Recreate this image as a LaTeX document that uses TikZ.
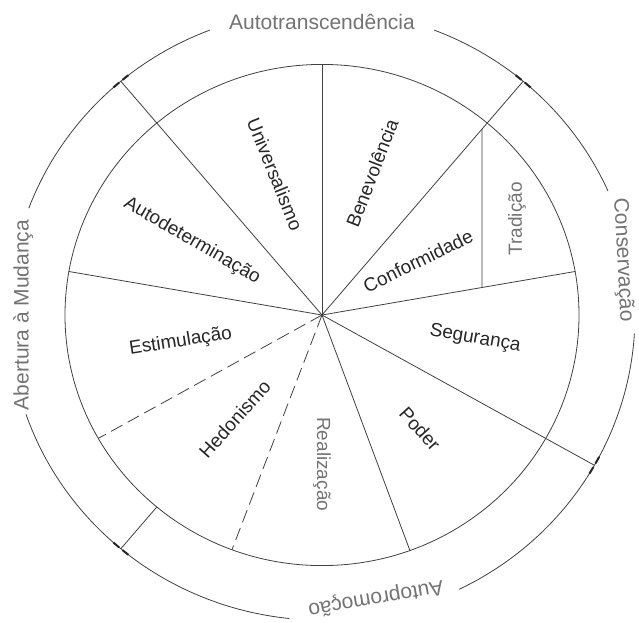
\documentclass[tikz,border=0pt]{standalone}
\usepackage{fontspec}
\setmainfont{Liberation Sans}
\begin{document}
\begin{tikzpicture}[x=1pt, y=0.975pt,
	ln/.style={draw=black!75, line width=0.8pt},
	val/.style={text=black!85, font=\fontsize{19}{19}\selectfont},
	pale/.style={text=black!55, font=\fontsize{19}{19}\selectfont},
	dim/.style={text=black!55, font=\fontsize{21}{21}\selectfont},
	tickmark/.style={draw=black!85, line width=2pt}]
		\useasboundingbox (-322pt,-307pt) rectangle (317pt,315pt);
		\coordinate (c) at (0,0);
		\draw[ln] (c) circle [radius=257];
		\foreach \a in {90,170,10,-70}{
		\draw[ln] (c) -- (\a:257);}
		\foreach \a in {-150.5,-110.5}{
		\draw[ln, dash pattern=on 13pt off 6pt] (c) -- (\a:257);}
		\foreach \a in {130,50,-29.5}{
		\draw[ln] (c) -- (\a:313);}
		\draw[ln] (230:257) -- (230:313);
		\coordinate (t1) at (50:{160/cos(50)});
		\coordinate (t2) at (10:{160/cos(10)});
		\draw[ln] (t1) -- (t2);
		\draw[ln] (111:313) arc [start angle=111, end angle=159.5, radius=313];
		\draw[ln] (24:313) arc [start angle=24, end angle=69, radius=313];
		\draw[ln] (-3.5:313) arc [start angle=-3.5, end angle=-64, radius=313];
		\draw[ln] (199:313) arc [start angle=199, end angle=264, radius=313];
		\foreach \a in {130,50,-29.5,230}{
		\draw[tickmark] ({\a+0.4}:313) arc [start angle=\a+0.4, end angle=\a+1.8, radius=313];
		\draw[tickmark] ({\a-0.4}:313) arc [start angle=\a-0.4, end angle=\a-1.8, radius=313];}
		\node[val, rotate=-68] (univ) at (108:152) {Universalismo};
		\node[val, rotate=69] (bene) at (71:154) {Benevolência};
		\node[val, rotate=-30] (auto) at (149.7:150.5) {Autodeterminação};
		\node[val, rotate=26] (conf) at (30:111) {Conformidade};
		\node[pale, rotate=90] (trad) at (195,98.5) {Tradição};
		\node[val, rotate=9] (esti) at (191:144) {Estimulação};
		\node[val, rotate=48] (hedo) at (230.8:138) {Hedonismo};
		\node[pale, rotate=-90] (real) at (270:153) {Realização};
		\node[val, rotate=-48] (pode) at (-50:152.5) {Poder};
		\node[val, rotate=-10] (segu) at (-9:155) {Segurança};
		\node[dim] (atr) at (90:300.5) {Autotranscendência};
		\node[dim, rotate=-87] (cons) at (10.6:306) {Conservação};
		\node[dim, rotate=90] (abe) at (180:299) {Abertura à Mudança};
		\node[dim, rotate=190] (apr) at (-79.5:295) {Autopromoção};
\end{tikzpicture}
\end{document}
